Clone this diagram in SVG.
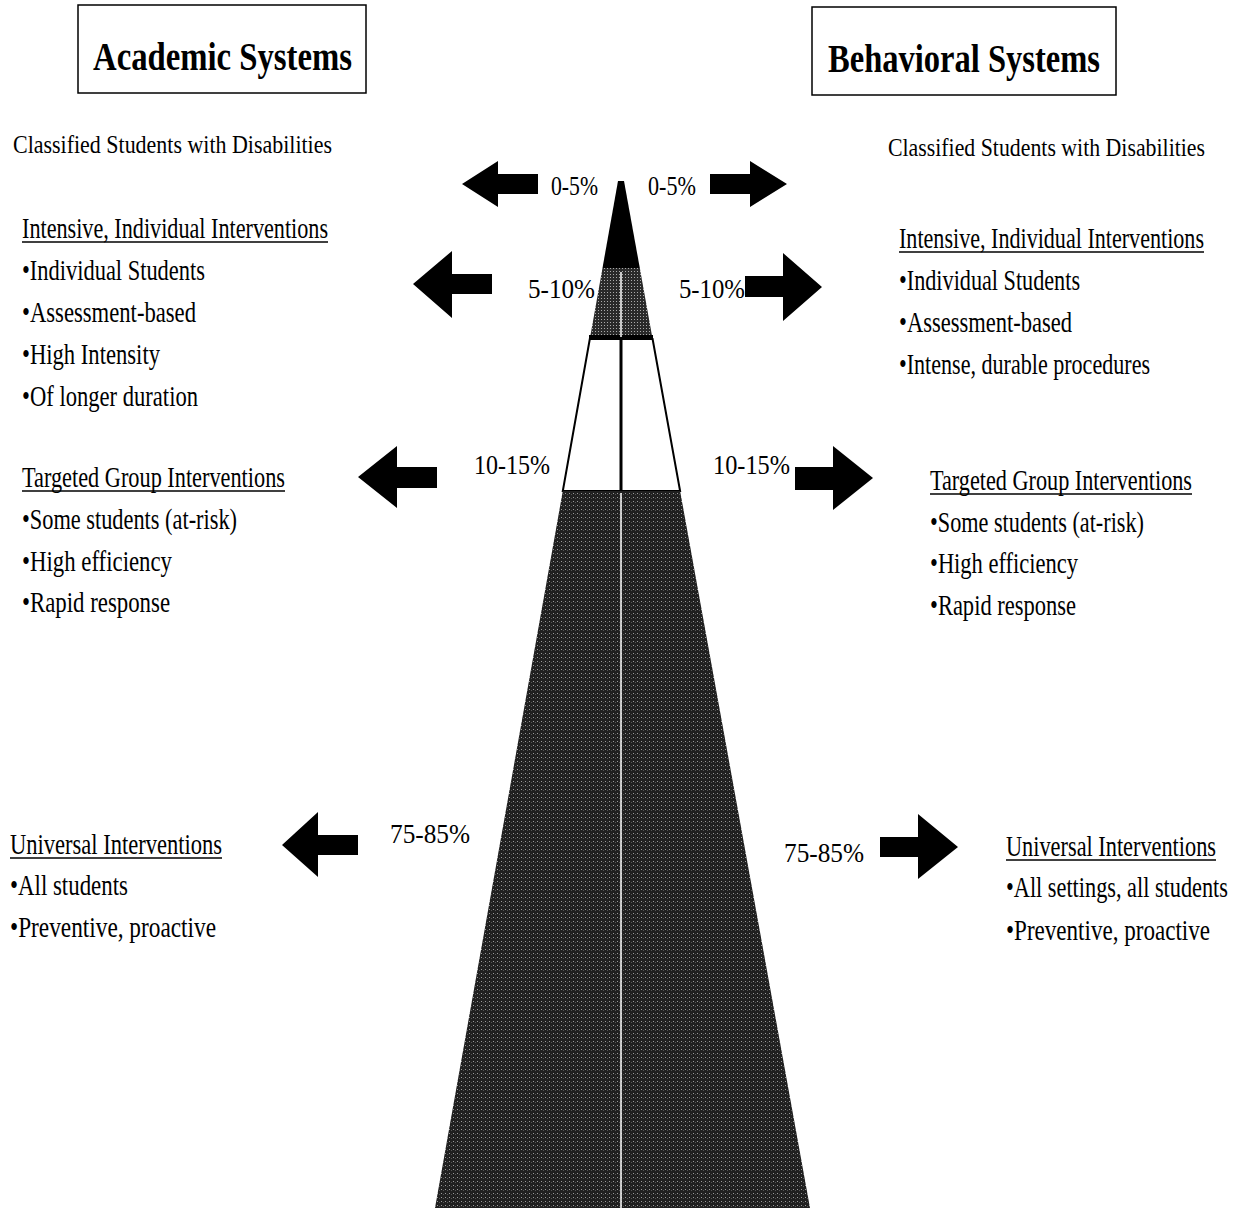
<svg xmlns="http://www.w3.org/2000/svg" width="1240" height="1208" viewBox="0 0 1240 1208">
<style>
  text { font-family: "Liberation Serif", "Times New Roman", serif; fill: #000; }
  .title { font-size: 40px; font-weight: bold; }
  .sub { font-size: 25px; }
  .pct { font-size: 27px; }
  .body { font-size: 29px; }
  .box { fill: #fff; stroke: #000; stroke-width: 1.5; }
  .ul { stroke: #000; stroke-width: 1.3; }
  .arrow { fill: #000; }
</style>
<defs>
  <pattern id="stip" width="4" height="4" patternUnits="userSpaceOnUse">
    <rect width="4" height="4" fill="#202020"/>
    <rect x="1" y="1" width="1" height="1" fill="#9a9a9a"/>
    <rect x="3" y="2" width="1" height="1" fill="#555"/>
  </pattern>
  <pattern id="stip2" width="3" height="3" patternUnits="userSpaceOnUse">
    <rect width="3" height="3" fill="#2a2a2a"/>
    <rect x="1" y="1" width="1" height="1" fill="#aaa"/>
  </pattern>
</defs>
<rect width="1240" height="1208" fill="#fff"/>

<g id="pyramid">
  <polygon points="618,181 624,181 639.8,268 602.5,268" fill="#000"/>
  <polygon points="602.5,268 639.8,268 652.6,339 589.8,339" fill="url(#stip2)"/>
  <polygon points="589.8,339 652.6,339 680.1,491 562.8,491" fill="#fff" stroke="#000" stroke-width="2"/>
  <rect x="589" y="335" width="64" height="4" fill="#000"/>
  <polygon points="562.8,491 680.1,491 810,1208 435,1208" fill="url(#stip)"/>
  <line x1="621" y1="339" x2="621" y2="491" stroke="#000" stroke-width="3"/>
  <line x1="621" y1="272" x2="621" y2="337" stroke="#fff" stroke-width="1.5"/>
  <line x1="621" y1="493" x2="621" y2="1208" stroke="#fff" stroke-width="1.5"/>
</g>

<g id="connectors">
  <path class="arrow" d="M462,184 L498,161 L498,174 L538,174 L538,194 L498,194 L498,207 Z"/>
  <path class="arrow" d="M787,184 L750,161 L750,174 L710,174 L710,194 L750,194 L750,207 Z"/>
  <path class="arrow" d="M413,284 L452,251 L452,274 L492,274 L492,294 L452,294 L452,318 Z"/>
  <path class="arrow" d="M822,287 L783,253 L783,276 L745,276 L745,297 L783,297 L783,321 Z"/>
  <path class="arrow" d="M358,477 L397,446 L397,467 L437,467 L437,488 L397,488 L397,508 Z"/>
  <path class="arrow" d="M873,478 L833,446 L833,467 L795,467 L795,490 L833,490 L833,510 Z"/>
  <path class="arrow" d="M282,845 L318,812 L318,835 L358,835 L358,855 L318,855 L318,877 Z"/>
  <path class="arrow" d="M958,847 L918,814 L918,837 L880,837 L880,857 L918,857 L918,879 Z"/>
</g>

<g id="academic-title">
  <rect class="box" x="78" y="5" width="288" height="88"/>
  <text class="title" x="93" y="70" textLength="259" lengthAdjust="spacingAndGlyphs">Academic Systems</text>
</g>
<g id="behavioral-title">
  <rect class="box" x="812" y="7" width="304" height="88"/>
  <text class="title" x="828" y="72" textLength="272" lengthAdjust="spacingAndGlyphs">Behavioral Systems</text>
</g>

<g id="left-classified">
  <text class="sub" transform="translate(13,153) scale(0.65,1)" textLength="490.8" lengthAdjust="spacingAndGlyphs">Classified Students with Disabilities</text>
</g>
<g id="right-classified">
  <text class="sub" transform="translate(888,156) scale(0.65,1)" textLength="487.7" lengthAdjust="spacingAndGlyphs">Classified Students with Disabilities</text>
</g>

<g id="percent-labels">
  <text class="pct" transform="translate(551,195) scale(0.65,1)" textLength="72.3" lengthAdjust="spacingAndGlyphs">0-5%</text>
  <text class="pct" transform="translate(648,195) scale(0.65,1)" textLength="73.8" lengthAdjust="spacingAndGlyphs">0-5%</text>
  <text class="pct" transform="translate(528,298) scale(0.65,1)" textLength="103.1" lengthAdjust="spacingAndGlyphs">5-10%</text>
  <text class="pct" transform="translate(679,298) scale(0.65,1)" textLength="101.5" lengthAdjust="spacingAndGlyphs">5-10%</text>
  <text class="pct" transform="translate(474,474) scale(0.65,1)" textLength="116.9" lengthAdjust="spacingAndGlyphs">10-15%</text>
  <text class="pct" transform="translate(713,474) scale(0.65,1)" textLength="118.5" lengthAdjust="spacingAndGlyphs">10-15%</text>
  <text class="pct" transform="translate(390,843) scale(0.65,1)" textLength="123.1" lengthAdjust="spacingAndGlyphs">75-85%</text>
  <text class="pct" transform="translate(784,862) scale(0.65,1)" textLength="123.1" lengthAdjust="spacingAndGlyphs">75-85%</text>
</g>

<g id="left-intensive">
  <text class="body" transform="translate(22,238) scale(0.65,1)" textLength="470.8" lengthAdjust="spacingAndGlyphs">Intensive, Individual Interventions</text>
  <line class="ul" x1="22" y1="242" x2="328" y2="242"/>
  <text class="body" transform="translate(22,280) scale(0.65,1)" textLength="281.5" lengthAdjust="spacingAndGlyphs">•Individual Students</text>
  <text class="body" transform="translate(22,322) scale(0.65,1)" textLength="267.7" lengthAdjust="spacingAndGlyphs">•Assessment-based</text>
  <text class="body" transform="translate(22,364) scale(0.65,1)" textLength="212.3" lengthAdjust="spacingAndGlyphs">•High Intensity</text>
  <text class="body" transform="translate(22,406) scale(0.65,1)" textLength="270.8" lengthAdjust="spacingAndGlyphs">•Of longer duration</text>
</g>
<g id="left-targeted">
  <text class="body" transform="translate(22,487) scale(0.65,1)" textLength="404.6" lengthAdjust="spacingAndGlyphs">Targeted Group Interventions</text>
  <line class="ul" x1="22" y1="491" x2="285" y2="491"/>
  <text class="body" transform="translate(22,529) scale(0.65,1)" textLength="330.8" lengthAdjust="spacingAndGlyphs">•Some students (at-risk)</text>
  <text class="body" transform="translate(22,571) scale(0.65,1)" textLength="230.8" lengthAdjust="spacingAndGlyphs">•High efficiency</text>
  <text class="body" transform="translate(22,612) scale(0.65,1)" textLength="227.7" lengthAdjust="spacingAndGlyphs">•Rapid response</text>
</g>
<g id="left-universal">
  <text class="body" transform="translate(10,854) scale(0.65,1)" textLength="326.2" lengthAdjust="spacingAndGlyphs">Universal Interventions</text>
  <line class="ul" x1="10" y1="858" x2="222" y2="858"/>
  <text class="body" transform="translate(10,895) scale(0.65,1)" textLength="181.5" lengthAdjust="spacingAndGlyphs">•All students</text>
  <text class="body" transform="translate(10,937) scale(0.65,1)" textLength="316.9" lengthAdjust="spacingAndGlyphs">•Preventive,  proactive</text>
</g>

<g id="right-intensive">
  <text class="body" transform="translate(899,248) scale(0.65,1)" textLength="469.2" lengthAdjust="spacingAndGlyphs">Intensive, Individual Interventions</text>
  <line class="ul" x1="899" y1="252" x2="1204" y2="252"/>
  <text class="body" transform="translate(899,290) scale(0.65,1)" textLength="278.5" lengthAdjust="spacingAndGlyphs">•Individual Students</text>
  <text class="body" transform="translate(899,332) scale(0.65,1)" textLength="266.2" lengthAdjust="spacingAndGlyphs">•Assessment-based</text>
  <text class="body" transform="translate(899,374) scale(0.65,1)" textLength="386.2" lengthAdjust="spacingAndGlyphs">•Intense, durable procedures</text>
</g>
<g id="right-targeted">
  <text class="body" transform="translate(930,490) scale(0.65,1)" textLength="403.1" lengthAdjust="spacingAndGlyphs">Targeted Group Interventions</text>
  <line class="ul" x1="930" y1="494" x2="1192" y2="494"/>
  <text class="body" transform="translate(930,532) scale(0.65,1)" textLength="329.2" lengthAdjust="spacingAndGlyphs">•Some students (at-risk)</text>
  <text class="body" transform="translate(930,573) scale(0.65,1)" textLength="227.7" lengthAdjust="spacingAndGlyphs">•High efficiency</text>
  <text class="body" transform="translate(930,615) scale(0.65,1)" textLength="224.6" lengthAdjust="spacingAndGlyphs">•Rapid response</text>
</g>
<g id="right-universal">
  <text class="body" transform="translate(1006,856) scale(0.65,1)" textLength="323.1" lengthAdjust="spacingAndGlyphs">Universal Interventions</text>
  <line class="ul" x1="1006" y1="860" x2="1216" y2="860"/>
  <text class="body" transform="translate(1006,897) scale(0.65,1)" textLength="341.5" lengthAdjust="spacingAndGlyphs">•All settings, all students</text>
  <text class="body" transform="translate(1006,940) scale(0.65,1)" textLength="313.8" lengthAdjust="spacingAndGlyphs">•Preventive,  proactive</text>
</g>
</svg>
